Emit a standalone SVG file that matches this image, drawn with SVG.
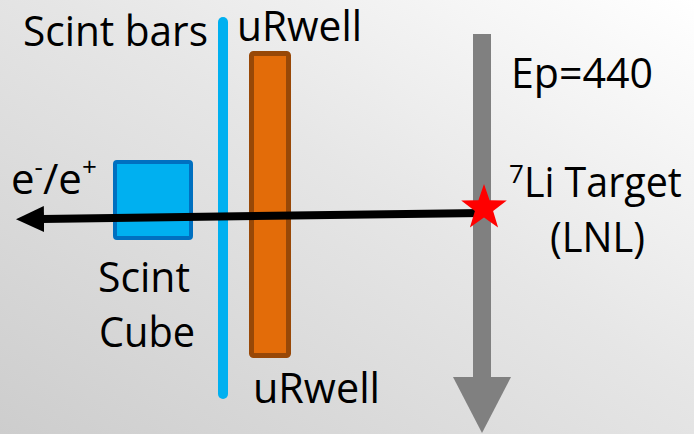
<svg xmlns="http://www.w3.org/2000/svg" width="694" height="434" viewBox="0 0 694 434">
  <defs>
    <linearGradient id="bg" x1="0" y1="1" x2="1" y2="0">
      <stop offset="0" stop-color="#cdcdcd"/>
      <stop offset="0.55" stop-color="#e6e6e6"/>
      <stop offset="1" stop-color="#ffffff"/>
    </linearGradient>
    <marker id="head" markerUnits="userSpaceOnUse" viewBox="0 0 28 26" refX="2" refY="13" markerWidth="28" markerHeight="26" orient="auto-start-reverse">
      <path d="M0,0 L28,13 L0,26 Z" fill="#000"/>
    </marker>
    <style>
      .lbl { font-family: "Open Sans", "Noto Sans", sans-serif; font-size: 42px; fill: #000; }
      .sup { font-size: 26px; }
    </style>
  </defs>

  <rect x="0" y="0" width="694" height="434" fill="url(#bg)"/>

  <!-- beam line with target -->
  <g id="beam">
    <rect x="473" y="34" width="18" height="345" fill="#808080"/>
    <path d="M453,377 L511,377 L482,433 Z" fill="#808080"/>
    <text class="lbl" x="511" y="88" textLength="142" lengthAdjust="spacingAndGlyphs">Ep=440</text>
  </g>

  <!-- scintillator bars -->
  <g id="scint-bars">
    <line x1="223" y1="22" x2="223" y2="394" stroke="#00b0f0" stroke-width="10" stroke-linecap="round"/>
    <text class="lbl" x="23" y="46" textLength="185" lengthAdjust="spacingAndGlyphs">Scint bars</text>
  </g>

  <!-- uRwell detector -->
  <g id="urwell">
    <rect x="251.5" y="53.5" width="37" height="302" rx="2" fill="#e36c09" stroke="#984807" stroke-width="5"/>
    <text class="lbl" x="237" y="41" textLength="125" lengthAdjust="spacingAndGlyphs">uRwell</text>
    <text class="lbl" x="253" y="403" textLength="127" lengthAdjust="spacingAndGlyphs">uRwell</text>
  </g>

  <!-- scintillator cube -->
  <g id="scint-cube">
    <rect x="115" y="162" width="76" height="76" rx="2" fill="#00b0f0" stroke="#0070c0" stroke-width="4"/>
    <text class="lbl" x="98" y="292" textLength="92" lengthAdjust="spacingAndGlyphs">Scint</text>
    <text class="lbl" x="99" y="347" textLength="96" lengthAdjust="spacingAndGlyphs">Cube</text>
  </g>

  <!-- connectors -->
  <g id="connectors">
    <line x1="482" y1="213" x2="42" y2="219" stroke="#000" stroke-width="8" marker-end="url(#head)"/>
  </g>

  <!-- outgoing particle label -->
  <g id="particle">
    <text class="lbl" x="11" y="194">e<tspan class="sup" dy="-18">-</tspan><tspan dy="18">/e</tspan><tspan class="sup" dy="-18">+</tspan></text>
  </g>

  <!-- target -->
  <g id="target">
    <polygon fill="#ff0000" points="484,184 489.6,200.2 506.8,200.6 493.1,211 498.1,227.4 484,217.6 469.9,227.4 474.9,211 461.2,200.6 478.4,200.2"/>
    <text class="lbl" x="509" y="197"><tspan class="sup" dy="-14">7</tspan><tspan dy="14" textLength="158" lengthAdjust="spacingAndGlyphs">Li Target</tspan></text>
    <text class="lbl" x="550" y="252" textLength="95" lengthAdjust="spacingAndGlyphs">(LNL)</text>
  </g>
</svg>
